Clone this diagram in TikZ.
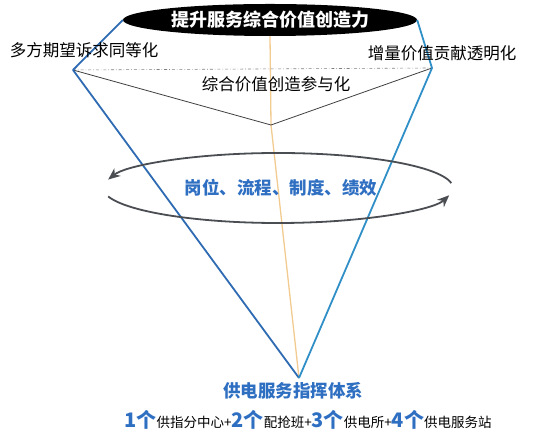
\documentclass[tikz,border=0pt]{standalone}
\usepackage{fontspec}
\setmainfont{Noto Sans CJK SC}
\usetikzlibrary{shapes.geometric,arrows.meta,positioning}
\definecolor{lbc}{HTML}{2E6BB2}
\definecolor{rbc}{HTML}{2F8FC6}
\definecolor{txb}{HTML}{2F6FC2}
\definecolor{tnc}{HTML}{F2CB90}
\definecolor{orc}{HTML}{4A4D52}
\newcommand{\bignum}[1]{{\color{txb}\fontsize{20}{20}\selectfont\bfseries #1个}}

\begin{document}
\begin{tikzpicture}[x=1pt, y=1pt,
  goalnode/.style={ellipse, fill=black, text=white, minimum width=294pt, minimum height=32pt, inner sep=0pt, font=\fontsize{18}{18}\selectfont\bfseries},
  sidetext/.style={inner sep=0pt, font=\fontsize{16.5}{16.5}\selectfont},
  bluetext/.style={inner sep=0pt, text=txb, font=\fontsize{17.5}{17.5}\selectfont\bfseries},
  orbit/.style={orc, line width=1.8pt, -{Stealth[length=12pt, width=10pt]}}]

    \useasboundingbox (0,0) rectangle (543,438);

    \coordinate (lc) at (73,368);
    \coordinate (rc) at (432,370);
    \coordinate (mid) at (271,313);
    \coordinate (tip) at (299,60);
    \coordinate (orb) at (278,250);

    \node[goalnode] (goal) at (270,418) {提升服务综合价值创造力};

    \draw[tnc, line width=1.3pt] (goal.south) -- (mid) -- (tip);
    \draw[gray, line width=0.6pt, dash dot] (lc) -- (rc);
    \draw[black!75, line width=0.8pt] (lc) -- (mid) -- (rc);
    \draw[lbc, line width=1.8pt, line join=round] (goal.west) -- (lc) -- (tip);
    \draw[rbc, line width=1.8pt, line join=round] (goal.east) -- (rc) -- (tip);

    \node[sidetext] (lefttxt) at (84,388) {多方期望诉求同等化};
    \node[sidetext] (righttxt) at (442,385) {增量价值贡献透明化};
    \node[sidetext] (midtxt) at (276,354) {综合价值创造参与化};

    % circulating arrows
    \draw[orbit] ([shift={(8:175 and 35)}]orb) arc[start angle=8, end angle=166, x radius=175, y radius=35];
    \draw[orbit] ([shift={(194:175 and 35)}]orb) arc[start angle=194, end angle=348, x radius=175, y radius=35];

    \node[bluetext] (work) at (281,250) {岗位、流程、制度、绩效};

    \node[bluetext] (center) at (293,47) {供电服务指挥体系};
    \node[inner sep=0pt, font=\fontsize{13.5}{13.5}\selectfont] (units) at (308,18)
      {\bignum{1}供指分中心+\bignum{2}配抢班+\bignum{3}供电所+\bignum{4}供电服务站};

  \end{tikzpicture}
\end{document}
